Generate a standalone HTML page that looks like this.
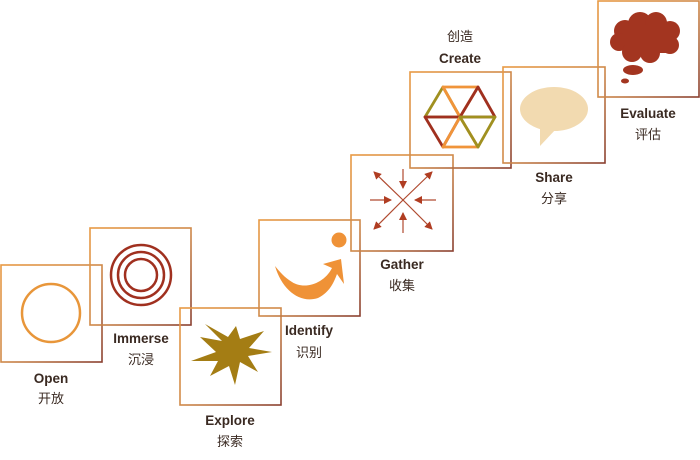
<!DOCTYPE html>
<html><head><meta charset="utf-8"><style>
html,body{margin:0;padding:0;background:#fff;width:700px;height:460px;overflow:hidden}
svg{display:block}
text{font-family:"Liberation Sans","Noto Sans CJK SC",sans-serif;fill:#3a2a22;text-anchor:middle;font-size:13px}
.en{font-weight:bold;font-size:13.5px}
</style></head><body>
<svg width="700" height="460" viewBox="0 0 700 460" xmlns="http://www.w3.org/2000/svg">
<defs>
<linearGradient id="g" x1="0" y1="0" x2="1" y2="1">
<stop offset="0" stop-color="#e89a45"/><stop offset="0.5" stop-color="#d08a4a"/><stop offset="1" stop-color="#8a4030"/>
</linearGradient>
<marker id="ah" markerWidth="8" markerHeight="8" refX="7" refY="4" orient="auto" markerUnits="userSpaceOnUse">
<path d="M0,0 L8,4 L0,8 Z" fill="#b03d22"/></marker>
</defs>
<g fill="none" stroke="url(#g)" stroke-width="1.6">
<rect x="1" y="265" width="101" height="97"/>
<rect x="90" y="228" width="101" height="97"/>
<rect x="180" y="308" width="101" height="97"/>
<rect x="259" y="220" width="101" height="96"/>
<rect x="351" y="155" width="102" height="96"/>
<rect x="410" y="72" width="101" height="96"/>
<rect x="503" y="67" width="102" height="96"/>
<rect x="598" y="1" width="101" height="96"/>
</g>
<!-- Open -->
<circle cx="51" cy="313" r="29" fill="none" stroke="#e8963a" stroke-width="2.5"/>
<!-- Immerse -->
<g fill="none" stroke="#a0301f" stroke-width="2.5"><circle cx="141" cy="275" r="30"/><circle cx="141" cy="275" r="23"/><circle cx="141" cy="275" r="16"/></g>
<!-- Explore star -->
<polygon fill="#a47d14" points="236,326 240,339 264,331 249,348 272,352 248,356 258,372 240,362 235,385 229,366 210,376 218,361 191,361 216,352 200,337 222,341 205,324 228,337" />
<!-- Identify -->
<circle cx="339" cy="240" r="7.5" fill="#ef9237"/>
<path fill="#ef9237" d="M275,266 C282,290 300,304 318,298 C330,292 334,282 337,274 L344,284 L341,259 L323,264 L332,268 C324,284 304,290 292,282 C284,277 280,272 275,266 Z"/>
<!-- Gather -->
<g stroke="#b04a30" stroke-width="1.2" fill="none" marker-end="url(#ah)">
<line x1="403" y1="200" x2="374" y2="172"/><line x1="403" y1="200" x2="432" y2="172"/>
<line x1="403" y1="200" x2="374" y2="229"/><line x1="403" y1="200" x2="432" y2="229"/>
<line x1="403" y1="169" x2="403" y2="188"/><line x1="403" y1="233" x2="403" y2="213"/>
<line x1="370" y1="200" x2="391" y2="200"/><line x1="436" y1="200" x2="415" y2="200"/>
</g>
<!-- Create hexagon -->
<g fill="none" stroke-width="2.8" stroke-linejoin="round">
<polygon points="443,87 460,117 425,117" stroke="#a09020"/>
<polygon points="443,87 478,87 460,117" stroke="#f0943a"/>
<polygon points="478,87 495,117 460,117" stroke="#a0301f"/>
<polygon points="425,117 460,117 443,147" stroke="#a0301f"/>
<polygon points="460,117 443,147 478,147" stroke="#f0943a"/>
<polygon points="460,117 495,117 478,147" stroke="#a09020"/>
</g>
<!-- Share -->
<ellipse cx="554" cy="109" rx="34" ry="22" fill="#f2dab0"/>
<path d="M540,124 L540,146 L556,129 Z" fill="#f2dab0"/>
<!-- Evaluate cloud -->
<g fill="#a33520">
<circle cx="625" cy="31" r="11"/><circle cx="640" cy="24" r="12"/><circle cx="656" cy="23" r="11"/><circle cx="670" cy="31" r="10"/>
<circle cx="619" cy="42" r="9"/><circle cx="670" cy="45" r="9"/><circle cx="632" cy="52" r="10"/><circle cx="650" cy="53" r="10"/>
<rect x="625" y="28" width="45" height="25"/>
<ellipse cx="633" cy="70" rx="10" ry="5"/><ellipse cx="625" cy="81" rx="4" ry="2.5"/>
</g>
<!-- labels -->
<text class="en" x="51" y="383">Open</text><text x="51" y="403">开放</text>
<text class="en" x="141" y="343">Immerse</text><text x="141" y="364">沉浸</text>
<text class="en" x="230" y="425">Explore</text><text x="230" y="446">探索</text>
<text class="en" x="309" y="335">Identify</text><text x="309" y="357">识别</text>
<text class="en" x="402" y="269">Gather</text><text x="402" y="290">收集</text>
<text x="460" y="41">创造</text><text class="en" x="460" y="63">Create</text>
<text class="en" x="554" y="182">Share</text><text x="554" y="203">分享</text>
<text class="en" x="648" y="118">Evaluate</text><text x="648" y="139">评估</text>
</svg>
</body></html>
